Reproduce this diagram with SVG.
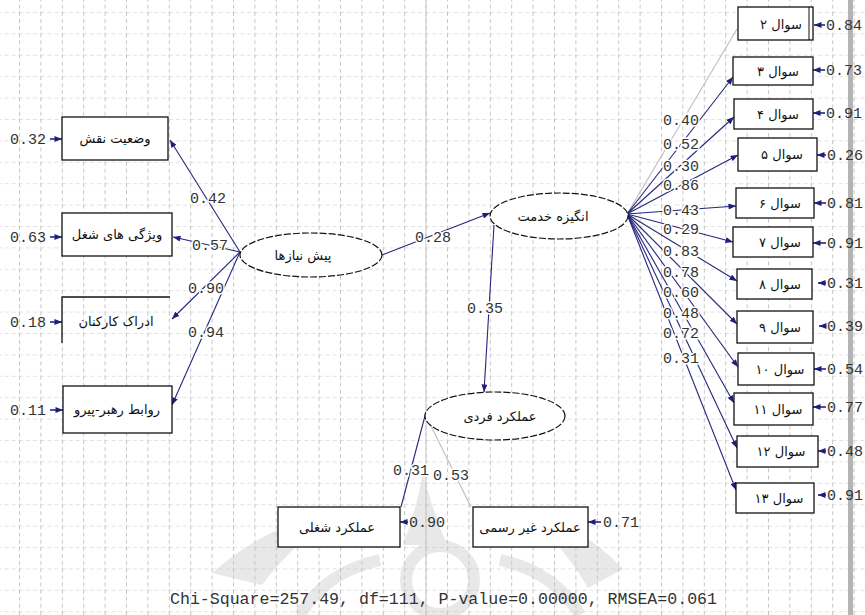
<svg xmlns="http://www.w3.org/2000/svg" width="865" height="615" viewBox="0 0 865 615">
<style>
.box{fill:#fff;stroke:#111;stroke-width:1.3}
.open{fill:none;stroke:#111;stroke-width:1.3}
.ell{fill:#fff;stroke:#111;stroke-width:1.2;stroke-dasharray:7 2}
.lbl{font-family:"DejaVu Sans",sans-serif;font-size:13px;fill:#111;text-anchor:middle}
.num{font-family:"Liberation Mono",monospace;font-size:15px;fill:#333;paint-order:stroke;stroke:#fff;stroke-width:3px}
.err{font-family:"Liberation Mono",monospace;font-size:15px;fill:#333}
.c{fill:none;stroke:#25257f;stroke-width:1.1;marker-end:url(#ah)}
.g{fill:none;stroke:#bdbdbd;stroke-width:1.1}
.e{fill:none;stroke:#25257f;stroke-width:1.6;marker-end:url(#ah)}
.wm{fill:#e8e8e8}
.wms{fill:none;stroke:#e8e8e8;stroke-width:12}
</style>
<defs>
<marker id="ah" viewBox="0 0 10 8" refX="10" refY="4" markerWidth="8" markerHeight="6" orient="auto" markerUnits="userSpaceOnUse"><path d="M0,0 L10,4 L0,8 z" fill="#1f1f7a"/></marker>
<pattern id="grid" patternUnits="userSpaceOnUse" x="19" y="12" width="21.4" height="21.4">
<line x1="0" y1="0" x2="21.4" y2="0" stroke="#c4c4c4" stroke-width="1" stroke-dasharray="4 3"/>
<line x1="0.5" y1="0" x2="0.5" y2="21.4" stroke="#c4c4c4" stroke-width="1" stroke-dasharray="4 3"/>
</pattern>
</defs>
<rect width="865" height="615" fill="#fff"/>
<g id="watermark">
<path class="wm" d="M403,545 Q418,505 423,470 Q430,505 447,545 Z"/>
<circle cx="440" cy="580" r="34" class="wms"/>
<path class="wm" d="M212,573 Q275,518 345,512 Q300,535 262,585 Z"/>
<path class="wm" d="M623,569 Q575,518 515,512 Q558,535 588,588 Z"/>
<path class="wms" d="M300,615 Q325,572 380,560"/>
<path class="wms" d="M580,615 Q555,572 500,560"/>
</g>
<rect width="865" height="615" fill="url(#grid)"/>
<line x1="426" y1="0" x2="426" y2="615" stroke="#c8c8c8" stroke-width="1"/>
<rect x="848" y="0" width="5" height="615" fill="#b4b4b4"/>

<g id="connectors">
<line class="c" x1="240" y1="252" x2="170" y2="140"/>
<line class="c" x1="240" y1="252" x2="173" y2="237"/>
<line class="c" x1="240" y1="252" x2="172" y2="319"/>
<line class="c" x1="240" y1="252" x2="172" y2="405"/>
<line class="c" x1="382" y1="255" x2="490" y2="213"/>
<line class="c" x1="494" y1="225" x2="484" y2="392"/>
<line class="g" x1="627" y1="214" x2="737" y2="29"/>
<line class="c" x1="627" y1="214" x2="733" y2="77"/>
<line class="c" x1="627" y1="214" x2="734" y2="117"/>
<line class="c" x1="627" y1="214" x2="738" y2="155"/>
<line class="c" x1="627" y1="214" x2="736" y2="206"/>
<line class="c" x1="627" y1="214" x2="733" y2="242"/>
<line class="c" x1="627" y1="214" x2="737" y2="281"/>
<line class="c" x1="627" y1="214" x2="737" y2="324"/>
<line class="c" x1="627" y1="214" x2="738" y2="367"/>
<line class="c" x1="627" y1="214" x2="734" y2="403"/>
<line class="c" x1="627" y1="214" x2="737" y2="448"/>
<line class="c" x1="627" y1="214" x2="736" y2="490"/>
<line x1="426" y1="412" x2="401" y2="507" stroke="#25257f" stroke-width="1.1"/>
<line class="g" x1="430" y1="424" x2="471" y2="507"/>
<line class="e" x1="50" y1="139" x2="62" y2="139"/>
<line class="e" x1="50" y1="237" x2="62" y2="237"/>
<line class="e" x1="50" y1="322" x2="62" y2="322"/>
<line class="e" x1="50" y1="410" x2="63" y2="410"/>
<line class="e" x1="408" y1="522" x2="400" y2="522"/>
<line class="e" x1="601" y1="522" x2="588" y2="522"/>
<line class="e" x1="825" y1="25" x2="814" y2="25"/>
<line class="e" x1="825" y1="70" x2="813" y2="70"/>
<line class="e" x1="825" y1="113" x2="813" y2="113"/>
<line class="e" x1="826" y1="155" x2="817" y2="155"/>
<line class="e" x1="826" y1="203" x2="814" y2="203"/>
<line class="e" x1="826" y1="243" x2="813" y2="243"/>
<line class="e" x1="826" y1="283" x2="818" y2="283"/>
<line class="e" x1="826" y1="326" x2="819" y2="326"/>
<line class="e" x1="826" y1="369" x2="814" y2="369"/>
<line class="e" x1="826" y1="407" x2="813" y2="407"/>
<line class="e" x1="826" y1="451" x2="818" y2="451"/>
<line class="e" x1="826" y1="495" x2="818" y2="495"/>
</g>

<g id="labels">
<text class="num" x="190" y="203">0.42</text>
<text class="num" x="192" y="250">0.57</text>
<text class="num" x="188" y="293">0.90</text>
<text class="num" x="188" y="337">0.94</text>
<text class="num" x="415" y="242">0.28</text>
<text class="num" x="467" y="313">0.35</text>
<text class="num" x="663" y="125">0.40</text>
<text class="num" x="663" y="149">0.52</text>
<text class="num" x="663" y="171">0.30</text>
<text class="num" x="663" y="190">0.86</text>
<text class="num" x="663" y="215">0.43</text>
<text class="num" x="663" y="234">0.29</text>
<text class="num" x="663" y="256">0.83</text>
<text class="num" x="663" y="277">0.78</text>
<text class="num" x="663" y="297">0.60</text>
<text class="num" x="663" y="318">0.48</text>
<text class="num" x="663" y="338">0.72</text>
<text class="num" x="663" y="363">0.31</text>
<text class="num" x="393" y="475">0.31</text>
<text class="num" x="433" y="480">0.53</text>
</g>

<g id="n-role"><rect class="box" x="62" y="117" width="106" height="43"/><text class="lbl" x="115" y="143" direction="rtl">وضعیت نقش</text><text class="err" x="10" y="144">0.32</text></g>
<g id="n-job"><rect class="box" x="62" y="213" width="110" height="43"/><text class="lbl" x="117" y="239" direction="rtl">ویژگی های شغل</text><text class="err" x="10" y="242">0.63</text></g>
<g id="n-perc"><path class="open" d="M170,297 H62 V343"/><text class="lbl" x="116" y="326" direction="rtl">ادراک کارکنان</text><text class="err" x="10" y="327">0.18</text></g>
<g id="n-lead"><rect class="box" x="63" y="386" width="109" height="47"/><text class="lbl" x="117" y="414" direction="rtl">روابط رهبر-پیرو</text><text class="err" x="10" y="415">0.11</text></g>

<g id="n-pre"><ellipse class="ell" cx="311" cy="255" rx="71" ry="22"/><text class="lbl" x="303" y="260" direction="rtl">پیش نیازها</text></g>
<g id="n-mot"><ellipse class="ell" cx="559" cy="216" rx="69" ry="23"/><text class="lbl" x="553" y="221" direction="rtl">انگیزه خدمت</text></g>
<g id="n-perf"><ellipse class="ell" cx="495" cy="416" rx="70" ry="24"/><text class="lbl" x="500" y="421" direction="rtl">عملکرد فردی</text></g>

<g id="n-task"><rect class="box" x="278" y="507" width="122" height="40"/><text class="lbl" x="337" y="532" direction="rtl">عملکرد شغلی</text><text class="err" x="409" y="527">0.90</text></g>
<g id="n-ctx"><rect class="box" x="473" y="507" width="115" height="40"/><text class="lbl" x="530" y="532" direction="rtl">عملکرد غیر رسمی</text><text class="err" x="603" y="527">0.71</text></g>

<g id="n-q2"><rect class="box" x="738" y="7" width="75" height="33"/><line x1="809" y1="7" x2="809" y2="40" stroke="#111" stroke-width="1"/><text class="lbl" x="781" y="29" direction="rtl">سوال ۲</text><text class="err" x="826" y="30">0.84</text></g>
<g id="n-q3"><rect class="box" x="733" y="57" width="80" height="28"/><text class="lbl" x="778" y="76" direction="rtl">سوال ۳</text><text class="err" x="826" y="75">0.73</text></g>
<g id="n-q4"><rect class="box" x="734" y="99" width="79" height="30"/><text class="lbl" x="778" y="119" direction="rtl">سوال ۴</text><text class="err" x="826" y="118">0.91</text></g>
<g id="n-q5"><rect class="box" x="738" y="138" width="79" height="33"/><text class="lbl" x="782" y="159" direction="rtl">سوال ۵</text><text class="err" x="827" y="160">0.26</text></g>
<g id="n-q6"><rect class="box" x="736" y="188" width="78" height="30"/><text class="lbl" x="780" y="208" direction="rtl">سوال ۶</text><text class="err" x="827" y="208">0.81</text></g>
<g id="n-q7"><rect class="box" x="733" y="227" width="80" height="30"/><text class="lbl" x="780" y="247" direction="rtl">سوال ۷</text><text class="err" x="827" y="248">0.91</text></g>
<g id="n-q8"><rect class="box" x="737" y="269" width="75" height="30"/><text class="lbl" x="780" y="289" direction="rtl">سوال ۸</text><text class="err" x="827" y="288">0.31</text></g>
<g id="n-q9"><rect class="box" x="737" y="311" width="76" height="32"/><text class="lbl" x="780" y="332" direction="rtl">سوال ۹</text><text class="err" x="827" y="331">0.39</text></g>
<g id="n-q10"><rect class="box" x="738" y="353" width="76" height="32"/><text class="lbl" x="780" y="374" direction="rtl">سوال ۱۰</text><text class="err" x="827" y="374">0.54</text></g>
<g id="n-q11"><rect class="box" x="734" y="393" width="79" height="32"/><text class="lbl" x="778" y="414" direction="rtl">سوال ۱۱</text><text class="err" x="827" y="412">0.77</text></g>
<g id="n-q12"><rect class="box" x="737" y="436" width="81" height="31"/><text class="lbl" x="781" y="456" direction="rtl">سوال ۱۲</text><text class="err" x="827" y="456">0.48</text></g>
<g id="n-q13"><rect class="box" x="736" y="483" width="78" height="30"/><text class="lbl" x="779" y="503" direction="rtl">سوال ۱۳</text><text class="err" x="827" y="500">0.91</text></g>

<text x="170" y="604" font-family="Liberation Mono, monospace" font-size="16" fill="#333" textLength="547" lengthAdjust="spacingAndGlyphs">Chi-Square=257.49, df=111, P-value=0.00000, RMSEA=0.061</text>
</svg>
